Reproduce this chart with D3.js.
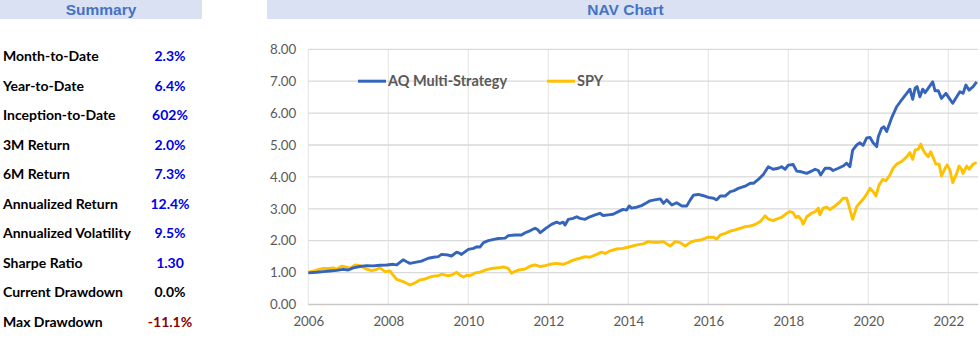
<!DOCTYPE html>
<html>
<head>
<meta charset="utf-8">
<script src="https://cdn.jsdelivr.net/npm/d3@7"></script>
<style>
  body { margin: 0; background: #fff; }
  svg { display: block; }
</style>
</head>
<body>
<svg id="svg" width="980" height="344"></svg>
<script>
// summary table
const summaryLabels = ["Month-to-Date", "Year-to-Date", "Inception-to-Date", "3M Return", "6M Return",
  "Annualized Return", "Annualized Volatility", "Sharpe Ratio", "Current Drawdown", "Max Drawdown"];
const summaryValues = ["2.3%", "6.4%", "602%", "2.0%", "7.3%", "12.4%", "9.5%", "1.30", "0.0%", "-11.1%"];
const summaryTone = ["pos", "pos", "pos", "pos", "pos", "pos", "pos", "pos", "flat", "neg"];

// NAV series (decimal year, value)
const aqDates = [2006.0, 2006.21, 2006.37, 2006.54, 2006.71, 2006.87, 2007.0, 2007.12, 2007.29, 2007.46,
  2007.62, 2007.79, 2007.96, 2008.12, 2008.21, 2008.29, 2008.37, 2008.46, 2008.54, 2008.67,
  2008.83, 2009.0, 2009.13, 2009.25, 2009.33, 2009.5, 2009.58, 2009.71, 2009.79, 2009.83,
  2010.0, 2010.13, 2010.21, 2010.29, 2010.38, 2010.5, 2010.67, 2010.75, 2010.92, 2011.0,
  2011.17, 2011.33, 2011.42, 2011.54, 2011.67, 2011.73, 2011.8, 2011.92, 2012.08, 2012.21,
  2012.29, 2012.37, 2012.42, 2012.5, 2012.62, 2012.71, 2012.79, 2012.92, 2013.04, 2013.17,
  2013.29, 2013.37, 2013.5, 2013.62, 2013.75, 2013.87, 2013.96, 2014.02, 2014.08, 2014.21,
  2014.33, 2014.46, 2014.54, 2014.66, 2014.8, 2014.88, 2014.96, 2015.09, 2015.21, 2015.34,
  2015.46, 2015.55, 2015.63, 2015.75, 2015.88, 2016.0, 2016.13, 2016.21, 2016.3, 2016.42,
  2016.55, 2016.63, 2016.75, 2016.92, 2017.05, 2017.13, 2017.25, 2017.38, 2017.5, 2017.62,
  2017.75, 2017.83, 2017.92, 2018.0, 2018.12, 2018.21, 2018.33, 2018.46, 2018.58, 2018.67,
  2018.75, 2018.81, 2018.92, 2019.04, 2019.12, 2019.25, 2019.37, 2019.46, 2019.54, 2019.61,
  2019.71, 2019.79, 2019.87, 2019.96, 2020.04, 2020.12, 2020.21, 2020.25, 2020.33, 2020.39,
  2020.46, 2020.58, 2020.71, 2020.83, 2020.96, 2021.04, 2021.11, 2021.17, 2021.22, 2021.29,
  2021.36, 2021.42, 2021.5, 2021.61, 2021.67, 2021.75, 2021.83, 2021.94, 2022.0, 2022.11,
  2022.21, 2022.29, 2022.37, 2022.44, 2022.52, 2022.62, 2022.71];
const aqNav = [0.99, 1.01, 1.03, 1.05, 1.07, 1.10, 1.08, 1.15, 1.19, 1.22,
  1.21, 1.23, 1.24, 1.26, 1.24, 1.32, 1.40, 1.34, 1.29, 1.32,
  1.36, 1.45, 1.48, 1.50, 1.57, 1.55, 1.52, 1.64, 1.60, 1.57,
  1.73, 1.76, 1.81, 1.80, 1.94, 2.00, 2.05, 2.07, 2.08, 2.16,
  2.18, 2.18, 2.25, 2.31, 2.39, 2.35, 2.25, 2.37, 2.51, 2.58,
  2.54, 2.58, 2.49, 2.67, 2.70, 2.75, 2.70, 2.67, 2.75, 2.81,
  2.86, 2.79, 2.81, 2.83, 2.91, 2.98, 2.96, 3.09, 3.02, 3.05,
  3.10, 3.19, 3.25, 3.28, 3.31, 3.17, 3.28, 3.12, 3.19, 3.09,
  3.09, 3.28, 3.43, 3.45, 3.41, 3.36, 3.33, 3.28, 3.40, 3.40,
  3.54, 3.56, 3.64, 3.71, 3.80, 3.80, 3.92, 4.08, 4.32, 4.24,
  4.27, 4.32, 4.24, 4.37, 4.39, 4.18, 4.16, 4.11, 4.18, 4.24,
  4.20, 4.06, 4.27, 4.27, 4.20, 4.27, 4.34, 4.43, 4.32, 4.84,
  5.00, 5.07, 4.99, 5.22, 5.24, 5.07, 4.95, 5.26, 5.52, 5.57,
  5.42, 5.84, 6.20, 6.41, 6.62, 6.75, 6.43, 6.78, 6.83, 6.51,
  6.75, 6.64, 6.78, 6.98, 6.70, 6.70, 6.46, 6.62, 6.51, 6.31,
  6.51, 6.67, 6.62, 6.88, 6.72, 6.83, 6.98];

const spyDates = [2006.0, 2006.21, 2006.37, 2006.54, 2006.62, 2006.71, 2006.83, 2006.96, 2007.04, 2007.17,
  2007.29, 2007.46, 2007.58, 2007.71, 2007.79, 2007.92, 2008.04, 2008.12, 2008.21, 2008.37,
  2008.54, 2008.67, 2008.79, 2008.92, 2009.0, 2009.13, 2009.25, 2009.33, 2009.5, 2009.58,
  2009.71, 2009.79, 2009.88, 2009.96, 2010.04, 2010.17, 2010.29, 2010.42, 2010.58, 2010.75,
  2010.88, 2011.0, 2011.08, 2011.17, 2011.25, 2011.42, 2011.54, 2011.67, 2011.8, 2011.92,
  2012.04, 2012.2, 2012.37, 2012.5, 2012.62, 2012.79, 2012.92, 2013.04, 2013.21, 2013.33,
  2013.42, 2013.54, 2013.71, 2013.87, 2014.04, 2014.21, 2014.37, 2014.5, 2014.62, 2014.75,
  2014.88, 2014.96, 2015.05, 2015.17, 2015.3, 2015.42, 2015.55, 2015.67, 2015.8, 2015.92,
  2016.0, 2016.13, 2016.21, 2016.3, 2016.42, 2016.55, 2016.67, 2016.8, 2016.92, 2017.05,
  2017.17, 2017.3, 2017.42, 2017.5, 2017.62, 2017.75, 2017.83, 2017.96, 2018.04, 2018.12,
  2018.19, 2018.25, 2018.33, 2018.37, 2018.46, 2018.58, 2018.67, 2018.75, 2018.79, 2018.87,
  2018.96, 2019.04, 2019.17, 2019.29, 2019.37, 2019.46, 2019.52, 2019.61, 2019.71, 2019.79,
  2019.87, 2019.96, 2020.04, 2020.12, 2020.19, 2020.27, 2020.36, 2020.44, 2020.54, 2020.62,
  2020.71, 2020.83, 2020.96, 2021.04, 2021.11, 2021.17, 2021.25, 2021.31, 2021.36, 2021.42,
  2021.5, 2021.56, 2021.62, 2021.69, 2021.77, 2021.83, 2021.92, 2021.97, 2022.04, 2022.11,
  2022.21, 2022.27, 2022.33, 2022.37, 2022.46, 2022.52, 2022.62, 2022.71];
const spyNav = [1.01, 1.08, 1.13, 1.13, 1.15, 1.11, 1.20, 1.17, 1.13, 1.24,
  1.22, 1.11, 1.06, 1.10, 1.15, 1.03, 1.05, 0.92, 0.79, 0.72,
  0.61, 0.68, 0.77, 0.80, 0.84, 0.89, 0.90, 0.95, 0.90, 0.92,
  1.01, 0.92, 0.86, 0.92, 0.90, 0.99, 1.01, 1.08, 1.13, 1.15,
  1.18, 1.13, 0.98, 1.04, 1.08, 1.11, 1.20, 1.24, 1.19, 1.22,
  1.26, 1.29, 1.26, 1.32, 1.39, 1.45, 1.50, 1.48, 1.57, 1.64,
  1.60, 1.68, 1.74, 1.76, 1.81, 1.87, 1.90, 1.97, 1.95, 1.95,
  1.97, 1.90, 1.83, 1.97, 1.94, 1.83, 1.95, 2.00, 2.02, 2.07,
  2.11, 2.11, 2.05, 2.18, 2.23, 2.30, 2.34, 2.39, 2.44, 2.46,
  2.51, 2.60, 2.78, 2.68, 2.63, 2.70, 2.73, 2.86, 2.91, 2.88,
  2.73, 2.77, 2.65, 2.52, 2.75, 2.86, 2.91, 3.02, 2.81, 3.02,
  3.05, 2.98, 3.09, 3.22, 3.33, 3.33, 3.07, 2.67, 3.07, 3.19,
  3.30, 3.46, 3.64, 3.54, 3.40, 3.75, 3.92, 3.88, 4.06, 4.27,
  4.40, 4.48, 4.63, 4.76, 4.55, 4.84, 4.87, 5.03, 4.87, 4.74,
  4.63, 4.79, 4.61, 4.40, 4.40, 4.03, 4.27, 4.37, 4.22, 3.82,
  4.11, 4.34, 4.24, 4.11, 4.34, 4.24, 4.40, 4.45];

const yearTicks = [2006, 2008, 2010, 2012, 2014, 2016, 2018, 2020, 2022];
const navTicks = [0, 1, 2, 3, 4, 5, 6, 7, 8];
const seriesNames = ["AQ Multi-Strategy", "SPY"];
const seriesColors = ["#3564bb", "#ffc000"];

const svg = d3.select("#svg");

// ---- header bars
const headers = [
  { text: "Summary", x0: 0, x1: 202 },
  { text: "NAV Chart", x0: 267, x1: 980 }
];
svg.selectAll(".hdr-bg")
  .data(headers)
  .enter()
  .append("rect")
  .attr("class", "hdr-bg")
  .attr("x", d => d.x0)
  .attr("y", 0)
  .attr("width", d => d.x1 - d.x0)
  .attr("height", 19)
  .attr("fill", "#d9e1f2");
svg.selectAll(".hdr-txt")
  .data(headers)
  .enter()
  .append("text")
  .attr("class", "hdr-txt")
  .attr("x", d => (d.x0 + d.x1) / 2 + (d.text === "NAV Chart" ? 2 : 0))
  .attr("y", 15)
  .attr("text-anchor", "middle")
  .attr("font-family", "Liberation Sans, Arial, sans-serif")
  .attr("font-weight", "bold")
  .attr("font-size", "15.5px")
  .attr("fill", "#4472c4")
  .text(d => d.text);

// ---- summary rows
const rowY = d3.scaleLinear().domain([0, summaryLabels.length - 1]).range([61, 326.7]);
const toneColor = { pos: "#0000e6", flat: "#000000", neg: "#8b0000" };

const rows = svg.append("g")
  .attr("font-family", "Lato, Carlito, Calibri, sans-serif")
  .attr("font-weight", "bold")
  .attr("font-size", "14px");

rows.selectAll(".lbl")
  .data(summaryLabels)
  .enter()
  .append("text")
  .attr("class", "lbl")
  .attr("x", 3)
  .attr("y", (d, i) => rowY(i))
  .attr("fill", "#000")
  .text(d => d);

rows.selectAll(".val")
  .data(summaryValues)
  .enter()
  .append("text")
  .attr("class", "val")
  .attr("x", 170)
  .attr("y", (d, i) => rowY(i))
  .attr("text-anchor", "middle")
  .attr("fill", (d, i) => toneColor[summaryTone[i]])
  .text(d => d);

// ---- NAV chart
const x = d3.scaleLinear().domain([2006, 2022.75]).range([308.3, 978.3]);
const y = d3.scaleLinear().domain([0, 8]).range([304.5, 49.3]);

const chart = svg.append("g");

chart.append("g")
  .selectAll("line")
  .data(yearTicks)
  .enter()
  .append("line")
  .attr("x1", d => x(d)).attr("x2", d => x(d))
  .attr("y1", y(8)).attr("y2", y(0))
  .attr("stroke", "#e3e3e3")
  .attr("stroke-width", 1);

chart.append("g")
  .selectAll("line")
  .data(navTicks)
  .enter()
  .append("line")
  .attr("x1", x(2006)).attr("x2", x(2022.75))
  .attr("y1", d => y(d)).attr("y2", d => y(d))
  .attr("stroke", d => d === 0 ? "#c8c8c8" : "#d9d9d9")
  .attr("stroke-width", 1.3);

const yAxis = d3.axisLeft(y).tickValues(navTicks).tickFormat(d3.format(".2f")).tickSize(0).tickPadding(12);
const xAxis = d3.axisBottom(x).tickValues(yearTicks).tickFormat(d3.format("d")).tickSize(0).tickPadding(12);

chart.append("g")
  .attr("transform", `translate(${x(2006)},0)`)
  .call(yAxis)
  .call(g => g.select(".domain").remove())
  .selectAll("text")
  .attr("font-family", "Lato, Carlito, Calibri, sans-serif")
  .attr("font-size", "13.3px")
  .attr("fill", "#595959");

chart.append("g")
  .attr("transform", `translate(0,${y(0)})`)
  .call(xAxis)
  .call(g => g.select(".domain").remove())
  .selectAll("text")
  .attr("font-family", "Lato, Carlito, Calibri, sans-serif")
  .attr("font-size", "13.3px")
  .attr("fill", "#595959");

const line = d3.line()
  .x(d => x(d[0]))
  .y(d => y(d[1]));

const series = [
  d3.zip(aqDates, aqNav),
  d3.zip(spyDates, spyNav)
];

// SPY below, AQ on top
chart.selectAll(".nav-line")
  .data([1, 0])
  .enter()
  .append("path")
  .attr("class", "nav-line")
  .attr("d", i => line(series[i]))
  .attr("fill", "none")
  .attr("stroke", i => seriesColors[i])
  .attr("stroke-width", 2.9)
  .attr("stroke-linejoin", "round");

// ---- legend
const legendX = [358, 547];
const legend = chart.selectAll(".legend")
  .data(seriesNames)
  .enter()
  .append("g")
  .attr("class", "legend")
  .attr("transform", (d, i) => `translate(${legendX[i]},${y(7)})`);
legend.append("line")
  .attr("x1", 0).attr("x2", 28)
  .attr("stroke", (d, i) => seriesColors[i])
  .attr("stroke-width", 3);
legend.append("text")
  .attr("x", 30)
  .attr("dy", "0.35em")
  .attr("font-family", "Lato, Carlito, Calibri, sans-serif")
  .attr("font-weight", "bold")
  .attr("font-size", "14.5px")
  .attr("fill", "#595959")
  .text(d => d);
</script>
</body>
</html>
